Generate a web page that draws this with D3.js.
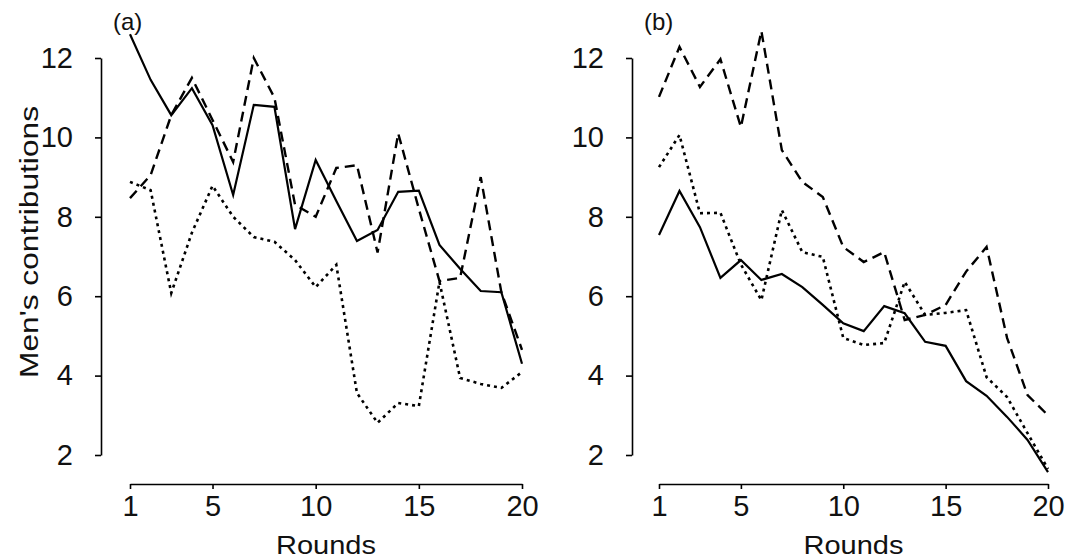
<!DOCTYPE html>
<html><head><meta charset="utf-8">
<script src="https://cdn.jsdelivr.net/npm/d3@7"></script>
<style>
body{margin:0;background:#fff;}
svg{display:block;font-family:"Liberation Sans",Arial,sans-serif;}
</style></head>
<body><svg id="c" width="1083" height="560"></svg>
<script>
const rounds = d3.range(1, 21);
const xTicks = [1, 5, 10, 15, 20];
const yTicks = [2, 4, 6, 8, 10, 12];
const panelLabels = ["(a)", "(b)"];
// Panel (a)
const aSolid  = [12.6, 11.45, 10.56, 11.24, 10.31, 8.55, 10.82, 10.77, 7.69, 9.43, 8.4, 7.39, 7.67, 8.63, 8.66, 7.29, 6.69, 6.13, 6.1, 4.3];
const aDashed = [8.47, 9.05, 10.56, 11.5, 10.44, 9.38, 12.0, 11.0, 8.3, 8.0, 9.23, 9.3, 7.1, 10.1, 8.2, 6.38, 6.46, 9.0, 6.1, 4.65];
const aDotted = [8.88, 8.67, 6.08, 7.6, 8.78, 8.0, 7.49, 7.37, 6.91, 6.23, 6.79, 3.56, 2.81, 3.31, 3.23, 6.36, 3.94, 3.79, 3.69, 4.09];
// Panel (b)
const bSolid  = [7.54, 8.65, 7.74, 6.46, 6.91, 6.41, 6.56, 6.23, 5.78, 5.32, 5.12, 5.75, 5.57, 4.85, 4.75, 3.86, 3.49, 2.96, 2.38, 1.57];
const bDashed = [11.02, 12.28, 11.27, 11.97, 10.26, 12.68, 9.68, 8.88, 8.5, 7.24, 6.86, 7.11, 5.4, 5.53, 5.78, 6.62, 7.24, 4.95, 3.51, 3.0];
const bDotted = [9.25, 10.06, 8.09, 8.1, 6.8, 5.9, 8.17, 7.11, 6.99, 4.95, 4.77, 4.82, 6.36, 5.53, 5.58, 5.65, 3.96, 3.46, 2.55, 1.65];

const svg = d3.select("#c");
const y = d3.scaleLinear().domain([2, 12]).range([455, 58]);

const panels = [
  {label: panelLabels[0], axisX: 101, x0: 130, x1: 522, series: [aSolid, aDashed, aDotted], ytitle: true},
  {label: panelLabels[1], axisX: 632, x0: 659, x1: 1048, series: [bSolid, bDashed, bDotted], ytitle: false}
];
const dashes = [null, "10,6", "3,4"];
const widths = [2.2, 2.4, 2.6];

panels.forEach(p => {
  const x = d3.scaleLinear().domain([1, 20]).range([p.x0, p.x1]);
  const g = svg.append("g");
  // y axis
  const ya = g.append("g").attr("transform", `translate(${p.axisX},0)`)
    .call(d3.axisLeft(y).tickValues(yTicks).tickSize(6).tickSizeOuter(0).tickPadding(22));
  ya.select(".domain").attr("stroke", "#000").attr("stroke-width", 1.6);
  ya.selectAll(".tick line").attr("stroke", "#000").attr("stroke-width", 1.6);
  ya.selectAll(".tick text").attr("font-size", 29).attr("fill", "#111")
    .attr("font-family", "Liberation Sans, Arial, sans-serif");
  // x axis
  const xa = g.append("g").attr("transform", `translate(0,484)`)
    .call(d3.axisBottom(x).tickValues(xTicks).tickSize(5).tickSizeOuter(0).tickPadding(6));
  xa.select(".domain").attr("stroke", "#000").attr("stroke-width", 1.6);
  xa.selectAll(".tick line").attr("stroke", "#000").attr("stroke-width", 1.6);
  xa.selectAll(".tick text").attr("font-size", 29).attr("fill", "#111")
    .attr("font-family", "Liberation Sans, Arial, sans-serif");
  // lines
  const line = d3.line().x((d, i) => x(rounds[i])).y(d => y(d));
  p.series.forEach((s, i) => {
    g.append("path").datum(s).attr("d", line).attr("fill", "none")
      .attr("stroke", "#000").attr("stroke-width", widths[i])
      .attr("stroke-linejoin", "miter")
      .attr("stroke-dasharray", dashes[i]);
  });
  // x title
  g.append("text").attr("x", (p.x0 + p.x1) / 2).attr("y", 554)
    .attr("text-anchor", "middle").attr("font-size", 26)
    .attr("textLength", 100).attr("lengthAdjust", "spacingAndGlyphs")
    .attr("fill", "#111").text("Rounds");
  // panel label
  g.append("text").attr("x", p.axisX + 12).attr("y", 30).attr("font-size", 24)
    .attr("fill", "#111").text(p.label);
  if (p.ytitle) {
    g.append("text").attr("transform", "translate(38,242) rotate(-90)")
      .attr("text-anchor", "middle").attr("font-size", 26)
      .attr("textLength", 272).attr("lengthAdjust", "spacingAndGlyphs")
      .attr("fill", "#111").text("Men's contributions");
  }
});
</script></body></html>
